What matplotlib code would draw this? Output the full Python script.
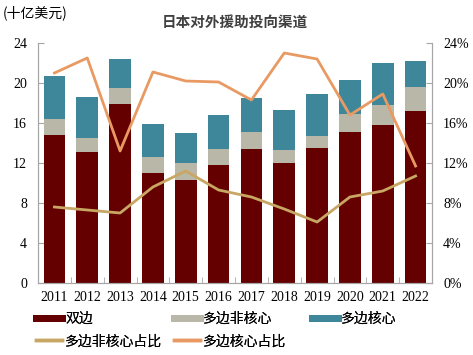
import numpy as np
import matplotlib
matplotlib.use("Agg")
import matplotlib.pyplot as plt
from matplotlib.lines import Line2D
from matplotlib.ticker import FixedLocator, FuncFormatter

plt.rcParams["font.family"] = ["Liberation Serif", "Noto Sans CJK SC", "DejaVu Sans"]

years = ["2011", "2012", "2013", "2014", "2015", "2016",
         "2017", "2018", "2019", "2020", "2021", "2022"]
bilateral = [14.8, 13.1, 17.9, 11.0, 10.3, 11.8, 13.4, 12.0, 13.5, 15.1, 15.8, 17.2]
multi_noncore = [1.6, 1.4, 1.6, 1.6, 1.7, 1.6, 1.7, 1.3, 1.2, 1.8, 2.0, 2.4]
multi_core = [4.3, 4.1, 2.9, 3.3, 3.0, 3.4, 3.4, 4.0, 4.2, 3.4, 4.2, 2.6]
noncore_share = [7.6, 7.3, 7.0, 9.6, 11.2, 9.3, 8.6, 7.4, 6.1, 8.6, 9.2, 10.7]
core_share = [21.0, 22.5, 13.2, 21.1, 20.2, 20.1, 18.3, 23.0, 22.4, 16.8, 18.9, 11.7]

c_bil = "#640000"
c_nc = "#B9B8A8"
c_core = "#3E879B"
c_nc_line = "#C8A663"
c_core_line = "#E99A62"
spine_c = "#A6A6A6"
cjk = ["Noto Sans CJK SC", "DejaVu Sans"]

fig = plt.figure(figsize=(4.73, 3.55), dpi=100, facecolor="white")
ax = fig.add_axes([38 / 473, 1 - 283 / 355, (432 - 38) / 473, (283 - 43) / 355])
x = np.arange(len(years))
w = 0.66
bot2 = np.array(bilateral) + np.array(multi_noncore)
ax.bar(x, bilateral, w, color=c_bil, zorder=2)
ax.bar(x, multi_noncore, w, bottom=bilateral, color=c_nc, zorder=2)
ax.bar(x, multi_core, w, bottom=bot2, color=c_core, zorder=2)

ax.set_xlim(-0.5, len(years) - 0.5)
ax.set_ylim(0, 24)
ax.set_yticks(np.arange(0, 25, 4))
ax.set_xticks(x)
ax.set_xticklabels(years)
ax.xaxis.set_minor_locator(FixedLocator(np.arange(-0.5, len(years), 1)))
ax.tick_params(axis="x", which="major", length=0, labelsize=10, pad=6)
ax.tick_params(axis="x", which="minor", direction="in", length=4, color=spine_c)
ax.tick_params(axis="y", direction="in", length=4, color=spine_c, labelsize=10, pad=8)

ax2 = ax.twinx()
ax2.plot(x, noncore_share, color=c_nc_line, lw=2, zorder=3)
ax2.plot(x, core_share, color=c_core_line, lw=2, zorder=3)
ax2.set_ylim(0, 24)
ax2.set_yticks(np.arange(0, 25, 4))
ax2.yaxis.set_major_formatter(FuncFormatter(lambda v, p: f"{v:.0f}%"))
ax2.tick_params(axis="y", direction="in", length=4, color=spine_c, labelsize=10, pad=8)

for a in (ax, ax2):
    a.spines["top"].set_visible(False)
    for s in ("left", "right", "bottom"):
        a.spines[s].set_color(spine_c)

fig.text(3 / 473, 1 - 13 / 355, "(十亿美元)", fontsize=10, family=cjk, va="center", ha="left")
fig.text(235 / 473, 1 - 22 / 355, "日本对外援助投向渠道", fontsize=10.5, family=cjk,
         fontweight="bold", color="#404040", va="center", ha="center")

# legend: three fixed-width columns like the original
columns = [
    ([Line2D([], [], color=c_bil, lw=5), Line2D([], [], color=c_nc_line, lw=2.5)],
     ["双边", "多边非核心占比"], 36),
    ([Line2D([], [], color=c_nc, lw=5), Line2D([], [], color=c_core_line, lw=2.5)],
     ["多边非核心", "多边核心占比"], 174),
    ([Line2D([], [], color=c_core, lw=5)], ["多边核心"], 312),
]
for hs, ls, px in columns:
    leg = fig.legend(hs, ls, loc="upper left", bbox_to_anchor=(px / 473, 1 - 312 / 355),
                     frameon=False, prop={"family": cjk, "size": 10}, handlelength=1.9,
                     handletextpad=0.2, labelspacing=0.6, borderaxespad=0, borderpad=0)
    fig.add_artist(leg)

fig.savefig("out.png", dpi=100, facecolor="white")
